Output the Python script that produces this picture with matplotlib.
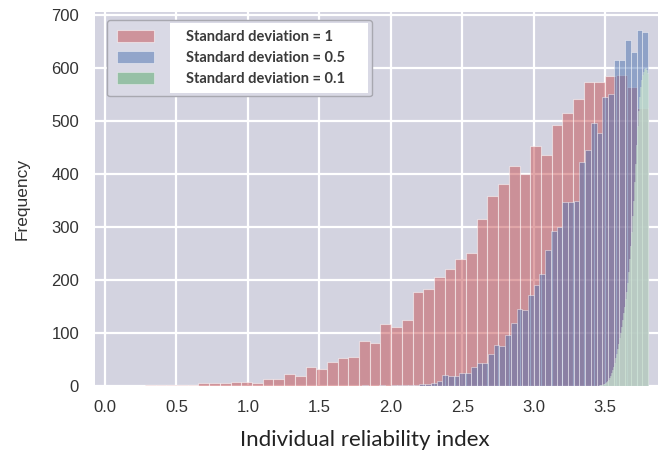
import matplotlib
matplotlib.use("Agg")
import matplotlib.pyplot as plt
import numpy as np
from matplotlib.patches import Patch, Rectangle

plt.rcParams["font.family"] = ["Liberation Sans", "DejaVu Sans"]

# ---------------- data ----------------
series_labels = ["Standard deviation = 1", "Standard deviation = 0.5", "Standard deviation = 0.1"]

# histogram ranges (min, max of each sample)
red_range = (0.055, 3.80)
blue_range = (1.80, 3.80)
green_range = (3.45, 3.80)

red_counts = [0, 0, 0, 1, 1, 1, 1, 1, 5, 5,
              5, 8, 8, 6, 13, 13, 22, 19, 35, 32,
              45, 52, 55, 85, 82, 117, 111, 124, 177, 184,
              205, 221, 240, 251, 316, 359, 381, 416, 400, 453,
              436, 493, 515, 541, 574, 574, 585, 588, 565, 525]

blue_counts = [1, 0, 0, 1, 0, 1, 1, 1, 2, 2,
               3, 4, 6, 10, 20, 18, 19, 25, 25, 35,
               44, 44, 60, 78, 76, 96, 119, 146, 144, 171,
               190, 211, 256, 293, 301, 348, 348, 350, 423, 445,
               496, 477, 545, 552, 616, 616, 653, 631, 672, 668]

green_counts = [0, 1, 1, 2, 2, 3, 4, 5, 7, 9,
                12, 15, 19, 24, 30, 36, 44, 52, 60, 70,
                80, 90, 100, 112, 125, 138, 150, 165, 178, 195,
                215, 240, 265, 290, 320, 350, 385, 420, 455, 490,
                520, 545, 565, 578, 588, 592, 598, 600, 596, 590]

x_ticks = [0.0, 0.5, 1.0, 1.5, 2.0, 2.5, 3.0, 3.5]
x_tick_labels = ["0.0", "0.5", "1.0", "1.5", "2.0", "2.5", "3.0", "3.5"]
y_ticks = [0, 100, 200, 300, 400, 500, 600, 700]
y_tick_labels = ["0", "100", "200", "300", "400", "500", "600", "700"]

x_label = "Individual reliability index"
y_label = "Frequency"

# ---------------- style ----------------
BG = "#d3d3e0"
RED = "#C44E52"
BLUE = "#4C72B0"
GREEN = "#55A868"
TXT = "#333333"
W, H = 663, 459

fig = plt.figure(figsize=(W / 100, H / 100), dpi=100)
ax = fig.add_axes([95 / W, 1 - 386 / H, (658 - 95) / W, (386 - 12) / H])
ax.set_facecolor(BG)
ax.set_axisbelow(True)
ax.grid(True, color="white", linewidth=1.6)
for s in ax.spines.values():
    s.set_visible(False)


def draw_hist(counts, rng, color, lw, label):
    edges = np.linspace(rng[0], rng[1], len(counts) + 1)
    centers = (edges[:-1] + edges[1:]) / 2
    _, _, patches = ax.hist(centers, bins=edges, weights=counts, color=color,
                            alpha=0.5, edgecolor="white", linewidth=lw, label=label)
    return patches


p_red = draw_hist(red_counts, red_range, RED, 0.8, series_labels[0])
p_blue = draw_hist(blue_counts, blue_range, BLUE, 0.6, series_labels[1])
p_green = draw_hist(green_counts, green_range, GREEN, 0.5, series_labels[2])

ax.set_xlim(-0.07, 3.87)
ax.set_ylim(0, 706)
ax.set_xticks(x_ticks)
ax.set_xticklabels(x_tick_labels)
ax.set_yticks(y_ticks)
ax.set_yticklabels(y_tick_labels)
ax.tick_params(axis="both", length=0, labelsize=12, labelcolor=TXT)
ax.tick_params(axis="y", pad=11.5)
ax.tick_params(axis="x", pad=10)

ax.set_xlabel(x_label, fontsize=16, family=["Lato", "DejaVu Sans"], color="#222222")
ax.xaxis.set_label_coords(0.479, -0.118)
ax.set_ylabel(y_label, fontsize=12.5, color=TXT)
ax.yaxis.set_label_coords(-0.117, 0.5)

# ---------------- legend ----------------
leg_kw = dict(loc="upper left", bbox_to_anchor=(12 / 563, 0.9786 - 0.3, 265 / 563, 0.3),
              mode="expand", borderaxespad=0, prop=dict(family="Lato", weight="bold", size=10.5),
              handlelength=2.55, handleheight=0.82, handletextpad=2.2,
              labelspacing=0.48, borderpad=0.7)
legA = ax.legend(handles=[p_red[0], p_blue[0], p_green[0]], labels=series_labels,
                 fancybox=True, framealpha=1, facecolor="#d9d9e5", edgecolor="#a8a8b0",
                 **leg_kw)
for t in legA.get_texts():
    t.set_visible(False)
legA.set_zorder(5)
ax.add_artist(legA)

ghost = [Patch(facecolor="none", edgecolor="none") for _ in series_labels]
legB = ax.legend(handles=ghost, labels=series_labels, frameon=False, **leg_kw)
for t in legB.get_texts():
    t.set_color("#3a3a3a")
legB.set_zorder(7)

fig.canvas.draw()
r = fig.canvas.get_renderer()
fb = legA.legendPatch.get_window_extent(r)
tl = min(t.get_window_extent(r).x0 for t in legB.get_texts())
x0 = tl - 16
x1 = fb.x1 - 4
y0 = fb.y0 + 3
y1 = fb.y1 - 3
white = Rectangle((x0 / W, y0 / H), (x1 - x0) / W, (y1 - y0) / H, transform=fig.transFigure,
                  facecolor="white", edgecolor="none", zorder=6, clip_on=False)
ax.add_artist(white)

fig.savefig("out.png", dpi=100)
